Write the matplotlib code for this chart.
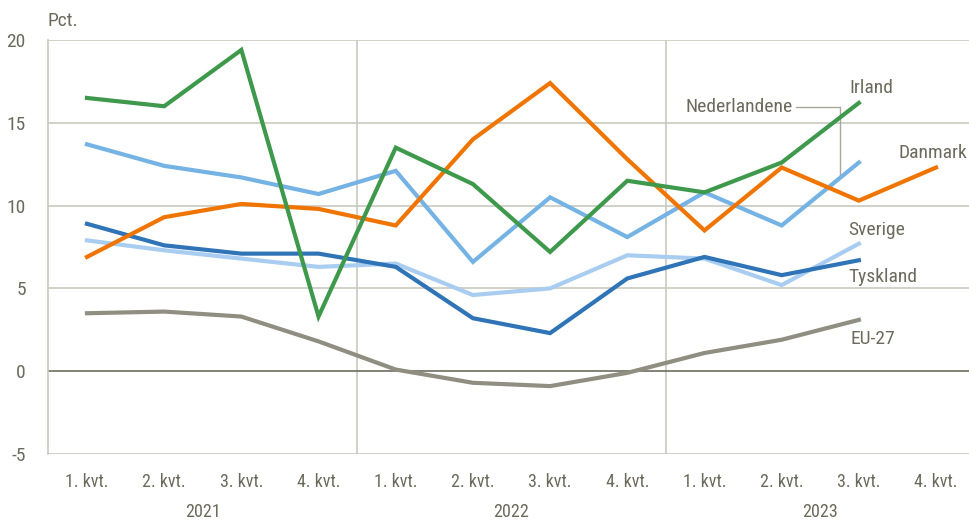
import matplotlib
matplotlib.use("Agg")
import matplotlib.pyplot as plt
from matplotlib import font_manager

quarters = ["1. kvt.", "2. kvt.", "3. kvt.", "4. kvt."] * 3
years = ["2021", "2022", "2023"]

irland = [16.5, 16.0, 19.4, 3.3, 13.5, 11.3, 7.2, 11.5, 10.8, 12.6, 16.2]
danmark = [6.9, 9.3, 10.1, 9.8, 8.8, 14.0, 17.4, 12.8, 8.5, 12.3, 10.3, 12.3]
nederlandene = [13.7, 12.4, 11.7, 10.7, 12.1, 6.6, 10.5, 8.1, 10.8, 8.8, 12.6]
sverige = [7.9, 7.3, 6.8, 6.3, 6.5, 4.6, 5.0, 7.0, 6.8, 5.2, 7.7]
tyskland = [8.9, 7.6, 7.1, 7.1, 6.3, 3.2, 2.3, 5.6, 6.9, 5.8, 6.7]
eu27 = [3.5, 3.6, 3.3, 1.8, 0.1, -0.7, -0.9, -0.1, 1.1, 1.9, 3.1]

yticks = [-5, 0, 5, 10, 15, 20]

# pick a narrow font if one is installed
fl = font_manager.fontManager.ttflist
names = {f.name for f in fl}
fam = None
stretch = "normal"
for cand in ["Liberation Sans Narrow", "Arial Narrow", "Roboto Condensed",
             "Open Sans Condensed", "Noto Sans Condensed", "DejaVu Sans Condensed"]:
    if cand in names:
        fam = cand
        break
if fam is None:
    for f in fl:
        if f.name in ("Roboto", "Open Sans", "Noto Sans", "DejaVu Sans") and \
                str(f.stretch) in ("condensed", "semi-condensed", "extra-condensed", "500", "400", "300") \
                and "ondensed" in f.fname:
            fam = f.name
            stretch = f.stretch
            break
narrow = fam is not None
if fam is None:
    fam = "Liberation Sans"
plt.rcParams["font.family"] = [fam, "DejaVu Sans"]
plt.rcParams["font.stretch"] = stretch

fs_big = 14 if narrow else 13
fs_tick = 13 if narrow else 12.5

txt = "#6b6a5c"
grid = "#cbc9bf"

fig = plt.figure(figsize=(9.7, 5.2), dpi=100)
ax = fig.add_axes([48 / 970, 1 - 454 / 520, 1 - 48 / 970, (454 - 40) / 520])

series = [
    (eu27, "#8f8e80"),
    (sverige, "#a9cdf0"),
    (tyskland, "#2e74b7"),
    (nederlandene, "#74b3e3"),
    (danmark, "#ef7500"),
    (irland, "#3f994c"),
]
for vals, col in series:
    ax.plot(range(len(vals)), vals, color=col, lw=3, solid_joinstyle="miter", zorder=3)

ax.set_xlim(-0.505, 11.44)
ax.set_ylim(-5, 20)
ax.set_yticks(yticks)
ax.set_yticklabels([str(v) for v in yticks], fontsize=fs_big, color=txt)
ax.set_xticks(range(12))
ax.set_xticklabels(quarters, fontsize=fs_tick, color=txt)
ax.tick_params(axis="both", length=0)
ax.tick_params(axis="x", pad=14)
ax.tick_params(axis="y", pad=16)

for y in yticks:
    if y == 0:
        ax.axhline(0, color="#6e6d5f", lw=1.2, zorder=2)
    else:
        ax.axhline(y, color=grid, lw=1.2, zorder=1)
for x in [3.5, 7.5]:
    ax.axvline(x, color=grid, lw=1.2, zorder=1)

for s in ["top", "right", "bottom"]:
    ax.spines[s].set_visible(False)
ax.spines["left"].set_color(grid)
ax.spines["left"].set_linewidth(1.2)

for i, yr in enumerate(years):
    ax.text(1.5 + 4 * i, -0.14, yr, transform=ax.get_xaxis_transform(),
            ha="center", va="center", fontsize=fs_tick, color=txt)

ax.text(0, 1.045, "Pct.", transform=ax.transAxes, ha="left", va="center",
        fontsize=fs_big, color=txt)

lab = dict(fontsize=fs_big, color=txt, va="center", ha="left")
ax.text(9.88, 17.1, "Irland", **lab)
ax.text(0.997, 13.2, "Danmark", transform=ax.get_yaxis_transform(),
        fontsize=fs_big, color=txt, va="center", ha="right")
ax.text(9.86, 8.5, "Sverige", **lab)
ax.text(9.86, 5.7, "Tyskland", **lab)
ax.text(9.89, 1.95, "EU-27", **lab)
ax.text(9.15, 15.95, "Nederlandene", fontsize=fs_big, color=txt, va="center", ha="right")
ax.plot([9.18, 9.76, 9.76], [15.95, 15.95, 11.8], color="#a9a89c", lw=1, zorder=2)

fig.savefig("out.png", dpi=100)
